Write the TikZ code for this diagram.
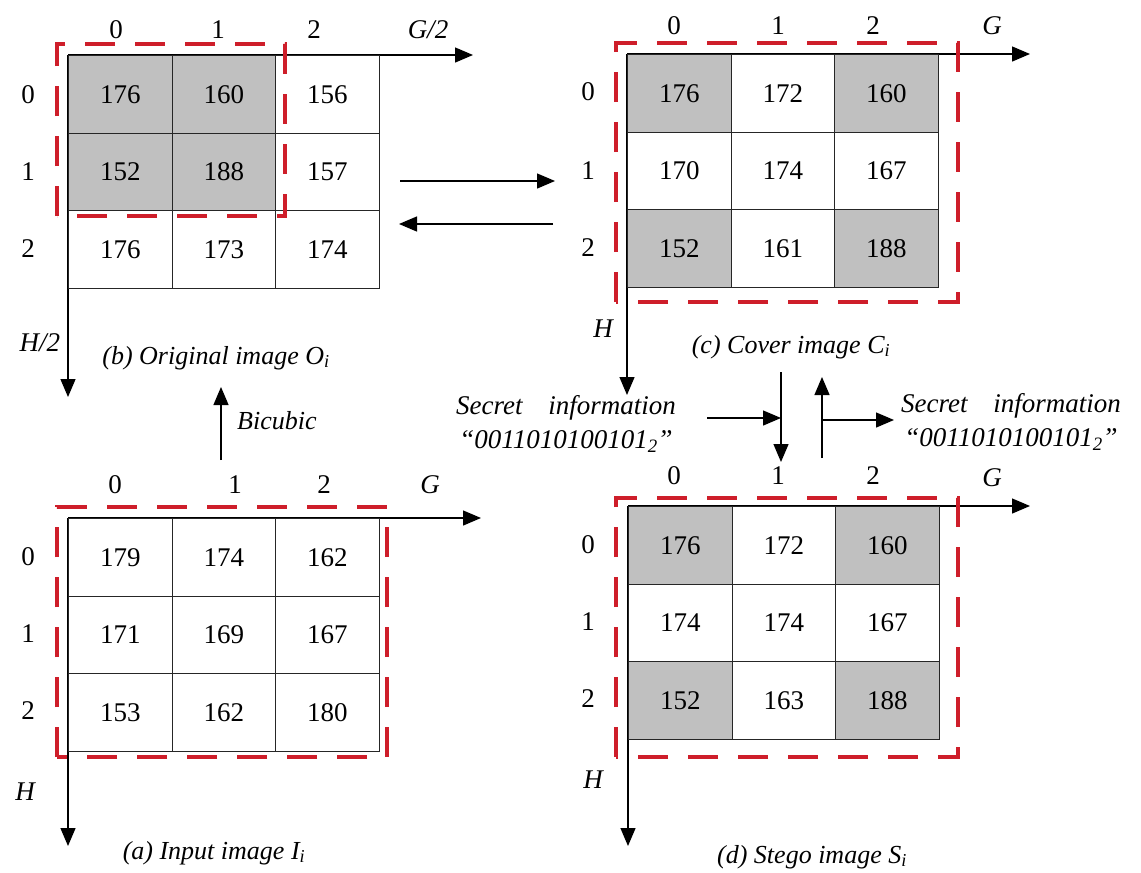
\documentclass[tikz,border=0pt]{standalone}
\usepackage{fontspec}
\setmainfont{Liberation Serif}
\usetikzlibrary{arrows.meta}
\definecolor{cellgray}{RGB}{192,192,192}
\definecolor{boxred}{RGB}{206,30,42}

\begin{document}
\begin{tikzpicture}[x=1pt,y=-1pt,
  cell/.style={draw=black!85, line width=1.3pt, minimum width=103.5pt, minimum height=77.5pt,
               inner sep=0pt, anchor=north west, font=\fontsize{27}{27}\selectfont},
  shaded/.style={cell, fill=cellgray},
  idx/.style={font=\fontsize{27}{27}\selectfont, inner sep=0pt},
  axlab/.style={font=\itshape\fontsize{27}{27}\selectfont, inner sep=0pt},
  caption/.style={font=\itshape\fontsize{26}{26}\selectfont, inner sep=0pt},
  axis/.style={line width=1.3pt, -{Triangle[length=18pt,width=15pt]}},
  flow/.style={line width=1.3pt, -{Triangle[length=18pt,width=15pt]}},
  roi/.style={draw=boxred, line width=4pt, dash pattern=on 30pt off 20pt},
  secret/.style={font=\itshape\fontsize{27}{34}\selectfont, inner sep=0pt, align=center},
]
\useasboundingbox (0,0) rectangle (1141,873);

% ---------- (b) original image ----------
\coordinate (bO) at (68,55);
\coordinate (bX) at (473,55);
\coordinate (bY) at (68,397);
\draw[axis] (bO) -- (bX);
\draw[axis] (bO) -- (bY);
\node[shaded] (b00) at (68,55)     {176};
\node[shaded] (b01) at (171.5,55)  {160};
\node[cell]   (b02) at (275,55)    {156};
\node[shaded] (b10) at (68,132.5)  {152};
\node[shaded] (b11) at (171.5,132.5) {188};
\node[cell]   (b12) at (275,132.5) {157};
\node[cell]   (b20) at (68,210)    {176};
\node[cell]   (b21) at (171.5,210) {173};
\node[cell]   (b22) at (275,210)   {174};
\draw[roi] (57,216) -- (57,44) -- (285,44) -- (285,216) -- cycle;
\node[idx] (bc0) at (116,30) {0};
\node[idx] (bc1) at (218,30) {1};
\node[idx] (bc2) at (314,30) {2};
\node[idx] (br0) at (28,95)  {0};
\node[idx] (br1) at (28,172) {1};
\node[idx] (br2) at (28,249) {2};
\node[axlab] (bG) at (428,30) {G/2};
\node[axlab] (bH) at (40,343) {H/2};
\node[caption] (bcap) at (216,358) {(b) Original image O\textsubscript{i}};

% ---------- (c) cover image ----------
\coordinate (cO) at (627,54);
\coordinate (cX) at (1030,54);
\coordinate (cY) at (627,395);
\draw[axis] (cO) -- (cX);
\draw[axis] (cO) -- (cY);
\node[shaded] (c00) at (627,54)      {176};
\node[cell]   (c01) at (730.5,54)    {172};
\node[shaded] (c02) at (834,54)      {160};
\node[cell]   (c10) at (627,131.5)   {170};
\node[cell]   (c11) at (730.5,131.5) {174};
\node[cell]   (c12) at (834,131.5)   {167};
\node[shaded] (c20) at (627,209)     {152};
\node[cell]   (c21) at (730.5,209)   {161};
\node[shaded] (c22) at (834,209)     {188};
\draw[roi] (616,302) -- (616,43) -- (958,43) -- (958,302) -- cycle;
\node[idx] (cc0) at (674,26) {0};
\node[idx] (cc1) at (778,26) {1};
\node[idx] (cc2) at (873,26) {2};
\node[idx] (cr0) at (588,92)  {0};
\node[idx] (cr1) at (588,171) {1};
\node[idx] (cr2) at (588,248) {2};
\node[axlab] (cG) at (992,26) {G};
\node[axlab] (cH) at (603,329) {H};
\node[caption] (ccap) at (791,347) {(c) Cover image C\textsubscript{i}};

% ---------- (a) input image ----------
\coordinate (aO) at (68,518);
\coordinate (aX) at (481,518);
\coordinate (aY) at (68,846);
\draw[axis] (aO) -- (aX);
\draw[axis] (aO) -- (aY);
\node[cell] (a00) at (68,518)      {179};
\node[cell] (a01) at (171.5,518)   {174};
\node[cell] (a02) at (275,518)     {162};
\node[cell] (a10) at (68,595.5)    {171};
\node[cell] (a11) at (171.5,595.5) {169};
\node[cell] (a12) at (275,595.5)   {167};
\node[cell] (a20) at (68,673)      {153};
\node[cell] (a21) at (171.5,673)   {162};
\node[cell] (a22) at (275,673)     {180};
\draw[roi] (57,757) -- (57,507) -- (387,507) -- (387,757) -- cycle;
\node[idx] (ac0) at (115,485) {0};
\node[idx] (ac1) at (235,485) {1};
\node[idx] (ac2) at (324,485) {2};
\node[idx] (ar0) at (28,557) {0};
\node[idx] (ar1) at (28,634) {1};
\node[idx] (ar2) at (28,711) {2};
\node[axlab] (aG) at (430,485) {G};
\node[axlab] (aH) at (25,792) {H};
\node[caption] (acap) at (214,853) {(a) Input image I\textsubscript{i}};

% ---------- (d) stego image ----------
\coordinate (dO) at (628,506);
\coordinate (dX) at (1030,506);
\coordinate (dY) at (628,846);
\draw[axis] (dO) -- (dX);
\draw[axis] (dO) -- (dY);
\node[shaded] (d00) at (628,506)     {176};
\node[cell]   (d01) at (731.5,506)   {172};
\node[shaded] (d02) at (835,506)     {160};
\node[cell]   (d10) at (628,583.5)   {174};
\node[cell]   (d11) at (731.5,583.5) {174};
\node[cell]   (d12) at (835,583.5)   {167};
\node[shaded] (d20) at (628,661)     {152};
\node[cell]   (d21) at (731.5,661)   {163};
\node[shaded] (d22) at (835,661)     {188};
\draw[roi] (616,757) -- (616,498) -- (958,498) -- (958,757) -- cycle;
\node[idx] (dc0) at (674,476) {0};
\node[idx] (dc1) at (778,476) {1};
\node[idx] (dc2) at (873,476) {2};
\node[idx] (dr0) at (588,545) {0};
\node[idx] (dr1) at (588,622) {1};
\node[idx] (dr2) at (588,699) {2};
\node[axlab] (dG) at (992,478) {G};
\node[axlab] (dH) at (593,780) {H};
\node[caption] (dcap) at (812,857) {(d) Stego image S\textsubscript{i}};

% ---------- process arrows ----------
% bicubic interpolation (a) -> (b)
\coordinate (bicS) at (221,460);
\coordinate (bicE) at (221,387);
\draw[flow] (bicS) -- (bicE);
\node[caption, anchor=west] (bic) at (237,421) {Bicubic};

% (b) <-> (c)
\coordinate (bcS) at (400,181);
\coordinate (bcE) at (555,181);
\coordinate (cbS) at (553,224);
\coordinate (cbE) at (399,224);
\draw[flow] (bcS) -- (bcE);
\draw[flow] (cbS) -- (cbE);

% embedding (c) -> (d) and extraction (d) -> (c)
\coordinate (embS) at (781,372);
\coordinate (embE) at (781,462);
\coordinate (extS) at (822,458);
\coordinate (extE) at (822,377);
\draw[flow] (embS) -- (embE);
\draw[flow] (extS) -- (extE);

\node[secret] (sin) at (566,424)
  {Secret\hspace{0.7em} information\\``0011010100101\textsubscript{2}''};
\node[secret] (sout) at (1011,422)
  {Secret\hspace{0.7em} information\\``0011010100101\textsubscript{2}''};
\coordinate (inS) at (707,418);
\coordinate (inE) at (781,418);
\coordinate (outS) at (822,420);
\coordinate (outE) at (894,420);
\draw[flow] (inS) -- (inE);
\draw[flow] (outS) -- (outE);
\end{tikzpicture}
\end{document}
